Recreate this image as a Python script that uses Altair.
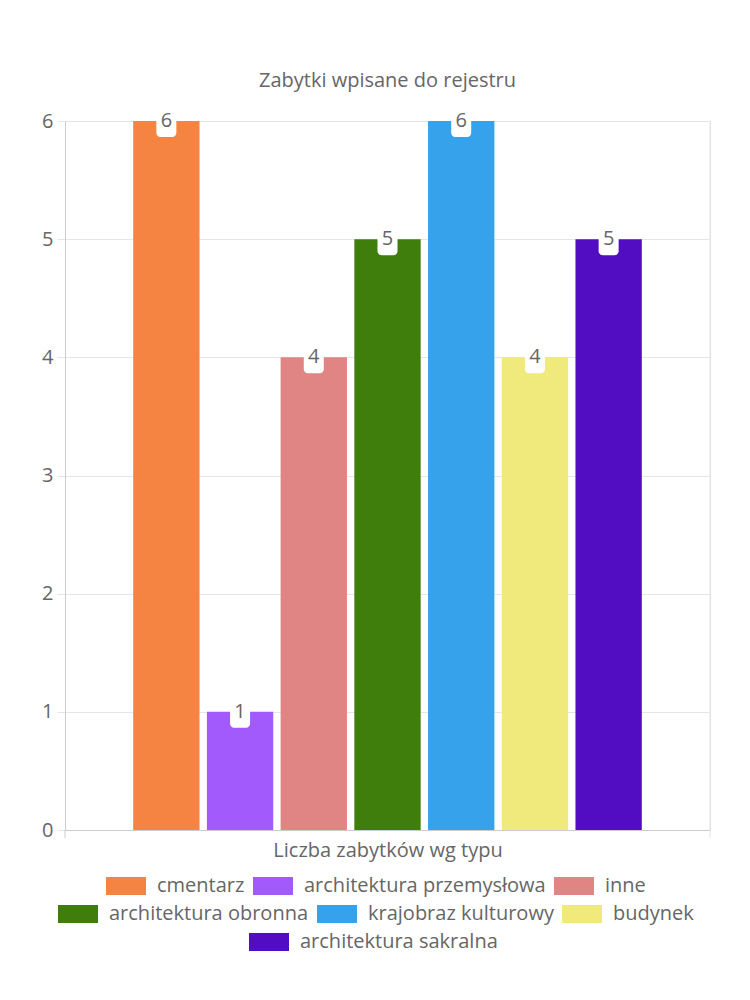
import altair as alt
import pandas as pd

categories = ["cmentarz", "architektura przemysłowa", "inne",
              "architektura obronna", "krajobraz kulturowy", "budynek",
              "architektura sakralna"]
values = [6, 1, 4, 5, 6, 4, 5]
colors = ["#F58442", "#A25AFD", "#E18484", "#3F7E0D", "#36A2EB", "#F0EA7D", "#520DC2"]
rows = [[0, 1, 2], [3, 4, 5], [6]]

FONT = "Open Sans"
GREY = "#666666"
FS = 20

df = pd.DataFrame({"typ": categories, "liczba": values})

W, H = 645, 709
x = alt.X("typ:N", sort=categories,
          scale=alt.Scale(domain=categories, paddingInner=0.1, paddingOuter=0.925),
          axis=alt.Axis(labels=False, ticks=False, domainColor="#cccccc",
                        title="Liczba zabytków wg typu", titleFontSize=FS,
                        titleFont=FONT, titleColor=GREY, titleFontWeight="normal",
                        titlePadding=10))
y = alt.Y("liczba:Q", scale=alt.Scale(domain=[0, 6], nice=False),
          axis=alt.Axis(values=[0, 1, 2, 3, 4, 5, 6], format="d", title=None,
                        labelFontSize=FS, labelFont=FONT, labelColor=GREY,
                        tickSize=8, tickColor="#e5e5e5", domainColor="#cccccc",
                        gridColor="#e5e5e5", labelPadding=4))

legend_pos = [(41, 745), (-7, 773), (184, 801)]
layers = []
for i, r in enumerate(rows):
    cats = [categories[k] for k in r]
    cols = [colors[k] for k in r]
    lx, ly = legend_pos[i]
    layers.append(
        alt.Chart(df).transform_filter(
            alt.FieldOneOfPredicate(field="typ", oneOf=cats)
        ).mark_bar().encode(
            x=x, y=y,
            color=alt.Color("typ:N", scale=alt.Scale(domain=cats, range=cols),
                            legend=alt.Legend(title=None, orient="none",
                                              legendX=lx, legendY=ly,
                                              direction="horizontal",
                                              symbolType="M-1,-0.45L1,-0.45L1,0.45L-1,0.45Z",
                                              symbolSize=1600, symbolStrokeWidth=0,
                                              symbolOpacity=1,
                                              labelFontSize=FS, labelFont=FONT,
                                              labelColor=GREY, labelOffset=11,
                                              columnPadding=8, labelLimit=400))
        )
    )

boxes = alt.Chart(df).mark_tick(color="white", size=20, thickness=32,
                                cornerRadius=4, opacity=1).encode(x=x, y=y)
labels = alt.Chart(df).mark_text(font=FONT, fontSize=FS, color=GREY,
                                 baseline="middle").encode(x=x, y=y, text="liczba:Q")
edges = alt.Chart(pd.DataFrame({"e": [0]})).mark_rule(color="#e5e5e5").encode(
    x=alt.value(W), y=alt.value(0), y2=alt.value(H + 8))
edge_l = alt.Chart(pd.DataFrame({"e": [0]})).mark_rule(color="#cccccc").encode(
    x=alt.value(0), y=alt.value(H), y2=alt.value(H + 8))

chart = alt.layer(*layers, boxes, labels, edges, edge_l).resolve_scale(
    color="independent"
).properties(
    width=W, height=H,
    title=alt.TitleParams("Zabytki wpisane do rejestru", font=FONT, fontSize=FS,
                          color=GREY, fontWeight="normal", anchor="middle", offset=14),
    autosize=alt.AutoSizeParams(type="none"),
    padding={"left": 65, "top": 121, "right": 40, "bottom": 170},
).configure_view(stroke=None).configure(background="white")

chart.save("out.html", embed_options={"renderer": "svg", "actions": False})
